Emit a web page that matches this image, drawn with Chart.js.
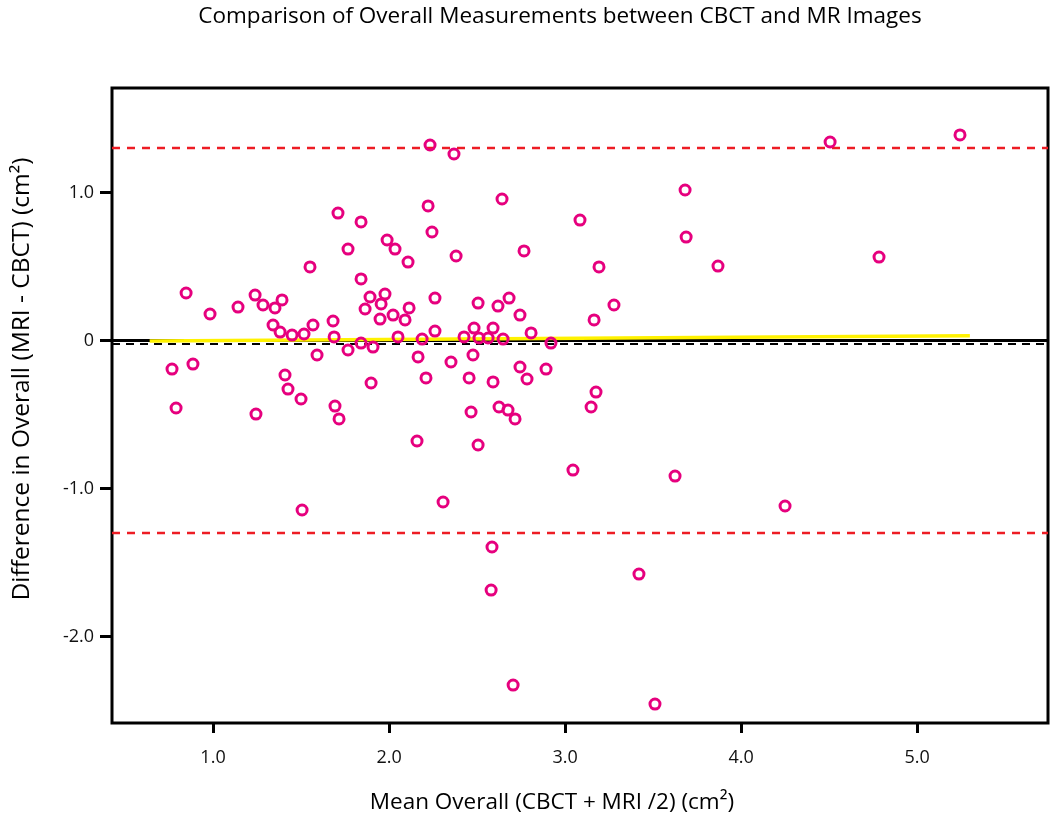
<!DOCTYPE html>
<html>
<head>
<meta charset="utf-8">
<script src="https://cdn.jsdelivr.net/npm/chart.js@4/dist/chart.umd.min.js"></script>
<style>
  html, body { margin: 0; padding: 0; background: #fff; }
  #wrap { width: 1050px; height: 818px; }
</style>
</head>
<body>
<div id="wrap"><canvas id="c" width="1050" height="818"></canvas></div>
<script>
// ---- data ----
const titleText = "Comparison of Overall Measurements between CBCT and MR Images";
const xAxisTitle = "Mean Overall (CBCT + MRI /2) (cm\u00B2)";
const yAxisTitle = "Difference in Overall (MRI - CBCT) (cm\u00B2)";

const meanValues = [
  0.767, 0.790, 0.847, 0.886, 0.983, 1.142, 1.239, 1.284, 1.352, 1.392,
  1.341, 1.381, 1.449, 1.517, 1.568, 1.682, 1.688, 1.591, 1.409, 1.426,
  1.500, 1.693, 1.244, 1.716, 1.506, 1.551, 1.710, 2.233, 2.369, 2.642,
  1.841, 2.222, 2.244, 1.989, 2.034, 1.767, 2.108, 2.381, 2.767, 1.841,
  1.892, 1.977, 1.955, 1.864, 1.949, 2.023, 2.091, 2.114, 2.261, 2.506,
  2.619, 2.682, 2.744, 3.193, 3.278, 3.165, 3.085, 1.767, 1.841, 1.909,
  2.051, 2.188, 2.261, 2.165, 2.352, 2.426, 2.483, 2.511, 2.563, 2.591,
  2.648, 2.477, 2.744, 2.784, 2.807, 2.920, 2.892, 1.898, 2.210, 2.455,
  2.591, 3.176, 3.148, 2.466, 2.625, 2.676, 2.716, 2.159, 2.506, 2.307,
  2.585, 2.580, 2.705, 3.045, 3.420, 3.625, 3.511, 3.682, 3.688, 3.869,
  4.250, 4.506, 4.784, 5.244
];
const diffValues = [
  -0.193, -0.456, 0.321, -0.159, 0.179, 0.226, 0.307, 0.240, 0.220, 0.274,
  0.105, 0.057, 0.037, 0.044, 0.105, 0.132, 0.024, -0.098, -0.233, -0.328,
  -0.395, -0.443, -0.497, -0.530, -1.145, 0.497, 0.861, 1.321, 1.260, 0.956,
  0.801, 0.909, 0.733, 0.679, 0.618, 0.618, 0.530, 0.571, 0.605, 0.416,
  0.294, 0.314, 0.247, 0.213, 0.145, 0.172, 0.139, 0.220, 0.287, 0.253,
  0.233, 0.287, 0.172, 0.497, 0.240, 0.139, 0.814, -0.064, -0.017, -0.044,
  0.024, 0.010, 0.064, -0.111, -0.145, 0.024, 0.084, 0.017, 0.017, 0.084,
  0.010, -0.098, -0.179, -0.260, 0.051, -0.017, -0.193, -0.287, -0.253, -0.253,
  -0.280, -0.348, -0.449, -0.483, -0.449, -0.470, -0.530, -0.679, -0.706, -1.091,
  -1.395, -1.686, -2.328, -0.875, -1.578, -0.916, -2.456, 1.017, 0.699, 0.503,
  -1.118, 1.341, 0.564, 1.389
];

const upperLimit = 1.30;
const lowerLimit = -1.30;
const meanDifference = -0.024;
const zeroValue = 0;
const regressionX = [0.64, 5.30];
const regressionY = [-0.003, 0.032];

const xMin = 0.426, xMax = 5.744;
const yMin = -2.584, yMax = 1.706;
const xTickValues = [1, 2, 3, 4, 5];
const xTickLabels = ["1.0", "2.0", "3.0", "4.0", "5.0"];
const yTickValues = [-2, -1, 0, 1];
const yTickLabels = ["-2.0", "-1.0", "0", "1.0"];

// ---- build ----
const points = meanValues.map((x, i) => ({ x: x, y: diffValues[i] }));
const hLine = v => [{ x: xMin, y: v }, { x: xMax, y: v }];
const regLine = regressionX.map((x, i) => ({ x: x, y: regressionY[i] }));

const FONT = "'Open Sans', 'Noto Sans', sans-serif";

const decorPlugin = {
  id: 'decor',
  beforeDatasetsDraw(chart) {
    const { ctx, chartArea: a } = chart;
    ctx.save();
    ctx.strokeStyle = '#000';
    ctx.lineWidth = 3;
    ctx.strokeRect(a.left, a.top, a.right - a.left, a.bottom - a.top);
    ctx.restore();
  },
  afterDraw(chart) {
    const { ctx } = chart;
    ctx.save();
    ctx.fillStyle = '#000';
    ctx.textAlign = 'center';
    ctx.textBaseline = 'middle';
    ctx.font = "22.5px " + FONT;
    ctx.fillText(titleText, 560, 17);
    ctx.fillText(xAxisTitle, 552, 803);
    ctx.font = "24.5px " + FONT;
    ctx.translate(22, 379);
    ctx.rotate(-Math.PI / 2);
    ctx.fillText(yAxisTitle, 0, 0);
    ctx.restore();
  }
};

new Chart(document.getElementById('c'), {
  type: 'scatter',
  data: {
    datasets: [
      {
        label: 'Measurements',
        data: points,
        pointStyle: 'circle',
        pointRadius: 5,
        pointHoverRadius: 5,
        pointBorderWidth: 3,
        pointBorderColor: '#e6007e',
        pointBackgroundColor: 'rgba(0,0,0,0)',
        showLine: false
      },
      {
        label: 'Regression',
        data: regLine,
        showLine: true,
        borderColor: '#fff200',
        borderWidth: 3.5,
        pointRadius: 0,
        fill: false
      },
      {
        label: 'Mean difference',
        data: hLine(meanDifference),
        showLine: true,
        borderColor: '#000',
        borderWidth: 2,
        borderDash: [8, 6],
        pointRadius: 0,
        fill: false
      },
      {
        label: 'Zero',
        data: hLine(zeroValue),
        showLine: true,
        borderColor: '#000',
        borderWidth: 3,
        pointRadius: 0,
        fill: false
      },
      {
        label: 'Upper limit',
        data: hLine(upperLimit),
        showLine: true,
        borderColor: '#ed1c24',
        borderWidth: 2.5,
        borderDash: [8, 7],
        pointRadius: 0,
        fill: false
      },
      {
        label: 'Lower limit',
        data: hLine(lowerLimit),
        showLine: true,
        borderColor: '#ed1c24',
        borderWidth: 2.5,
        borderDash: [8, 7],
        pointRadius: 0,
        fill: false
      }
    ]
  },
  options: {
    responsive: false,
    animation: false,
    events: [],
    layout: { autoPadding: false, padding: { top: 88, right: 2, left: 0, bottom: 0 } },
    plugins: {
      legend: { display: false },
      tooltip: { enabled: false },
      title: { display: false }
    },
    scales: {
      x: {
        type: 'linear',
        min: xMin,
        max: xMax,
        afterFit(s) { s.height = 95; s.paddingLeft = 0; s.paddingRight = 0; },
        afterBuildTicks(s) { s.ticks = xTickValues.map(v => ({ value: v })); },
        border: { display: false },
        grid: {
          drawOnChartArea: false,
          drawTicks: true,
          tickLength: 10,
          tickWidth: 3,
          tickColor: '#000'
        },
        ticks: {
          autoSkip: false,
          maxRotation: 0,
          padding: 14,
          color: '#111',
          font: { family: FONT, size: 18 },
          callback: (v, i) => xTickLabels[i]
        }
      },
      y: {
        type: 'linear',
        min: yMin,
        max: yMax,
        afterFit(s) { s.width = 112; s.paddingTop = 0; s.paddingBottom = 0; },
        afterBuildTicks(s) { s.ticks = yTickValues.map(v => ({ value: v })); },
        border: { display: false },
        grid: {
          drawOnChartArea: false,
          drawTicks: true,
          tickLength: 12,
          tickWidth: 3,
          tickColor: '#000'
        },
        ticks: {
          autoSkip: false,
          padding: 6,
          color: '#111',
          font: { family: FONT, size: 18 },
          callback: (v, i) => yTickLabels[i]
        }
      }
    }
  },
  plugins: [decorPlugin]
});
</script>
</body>
</html>
